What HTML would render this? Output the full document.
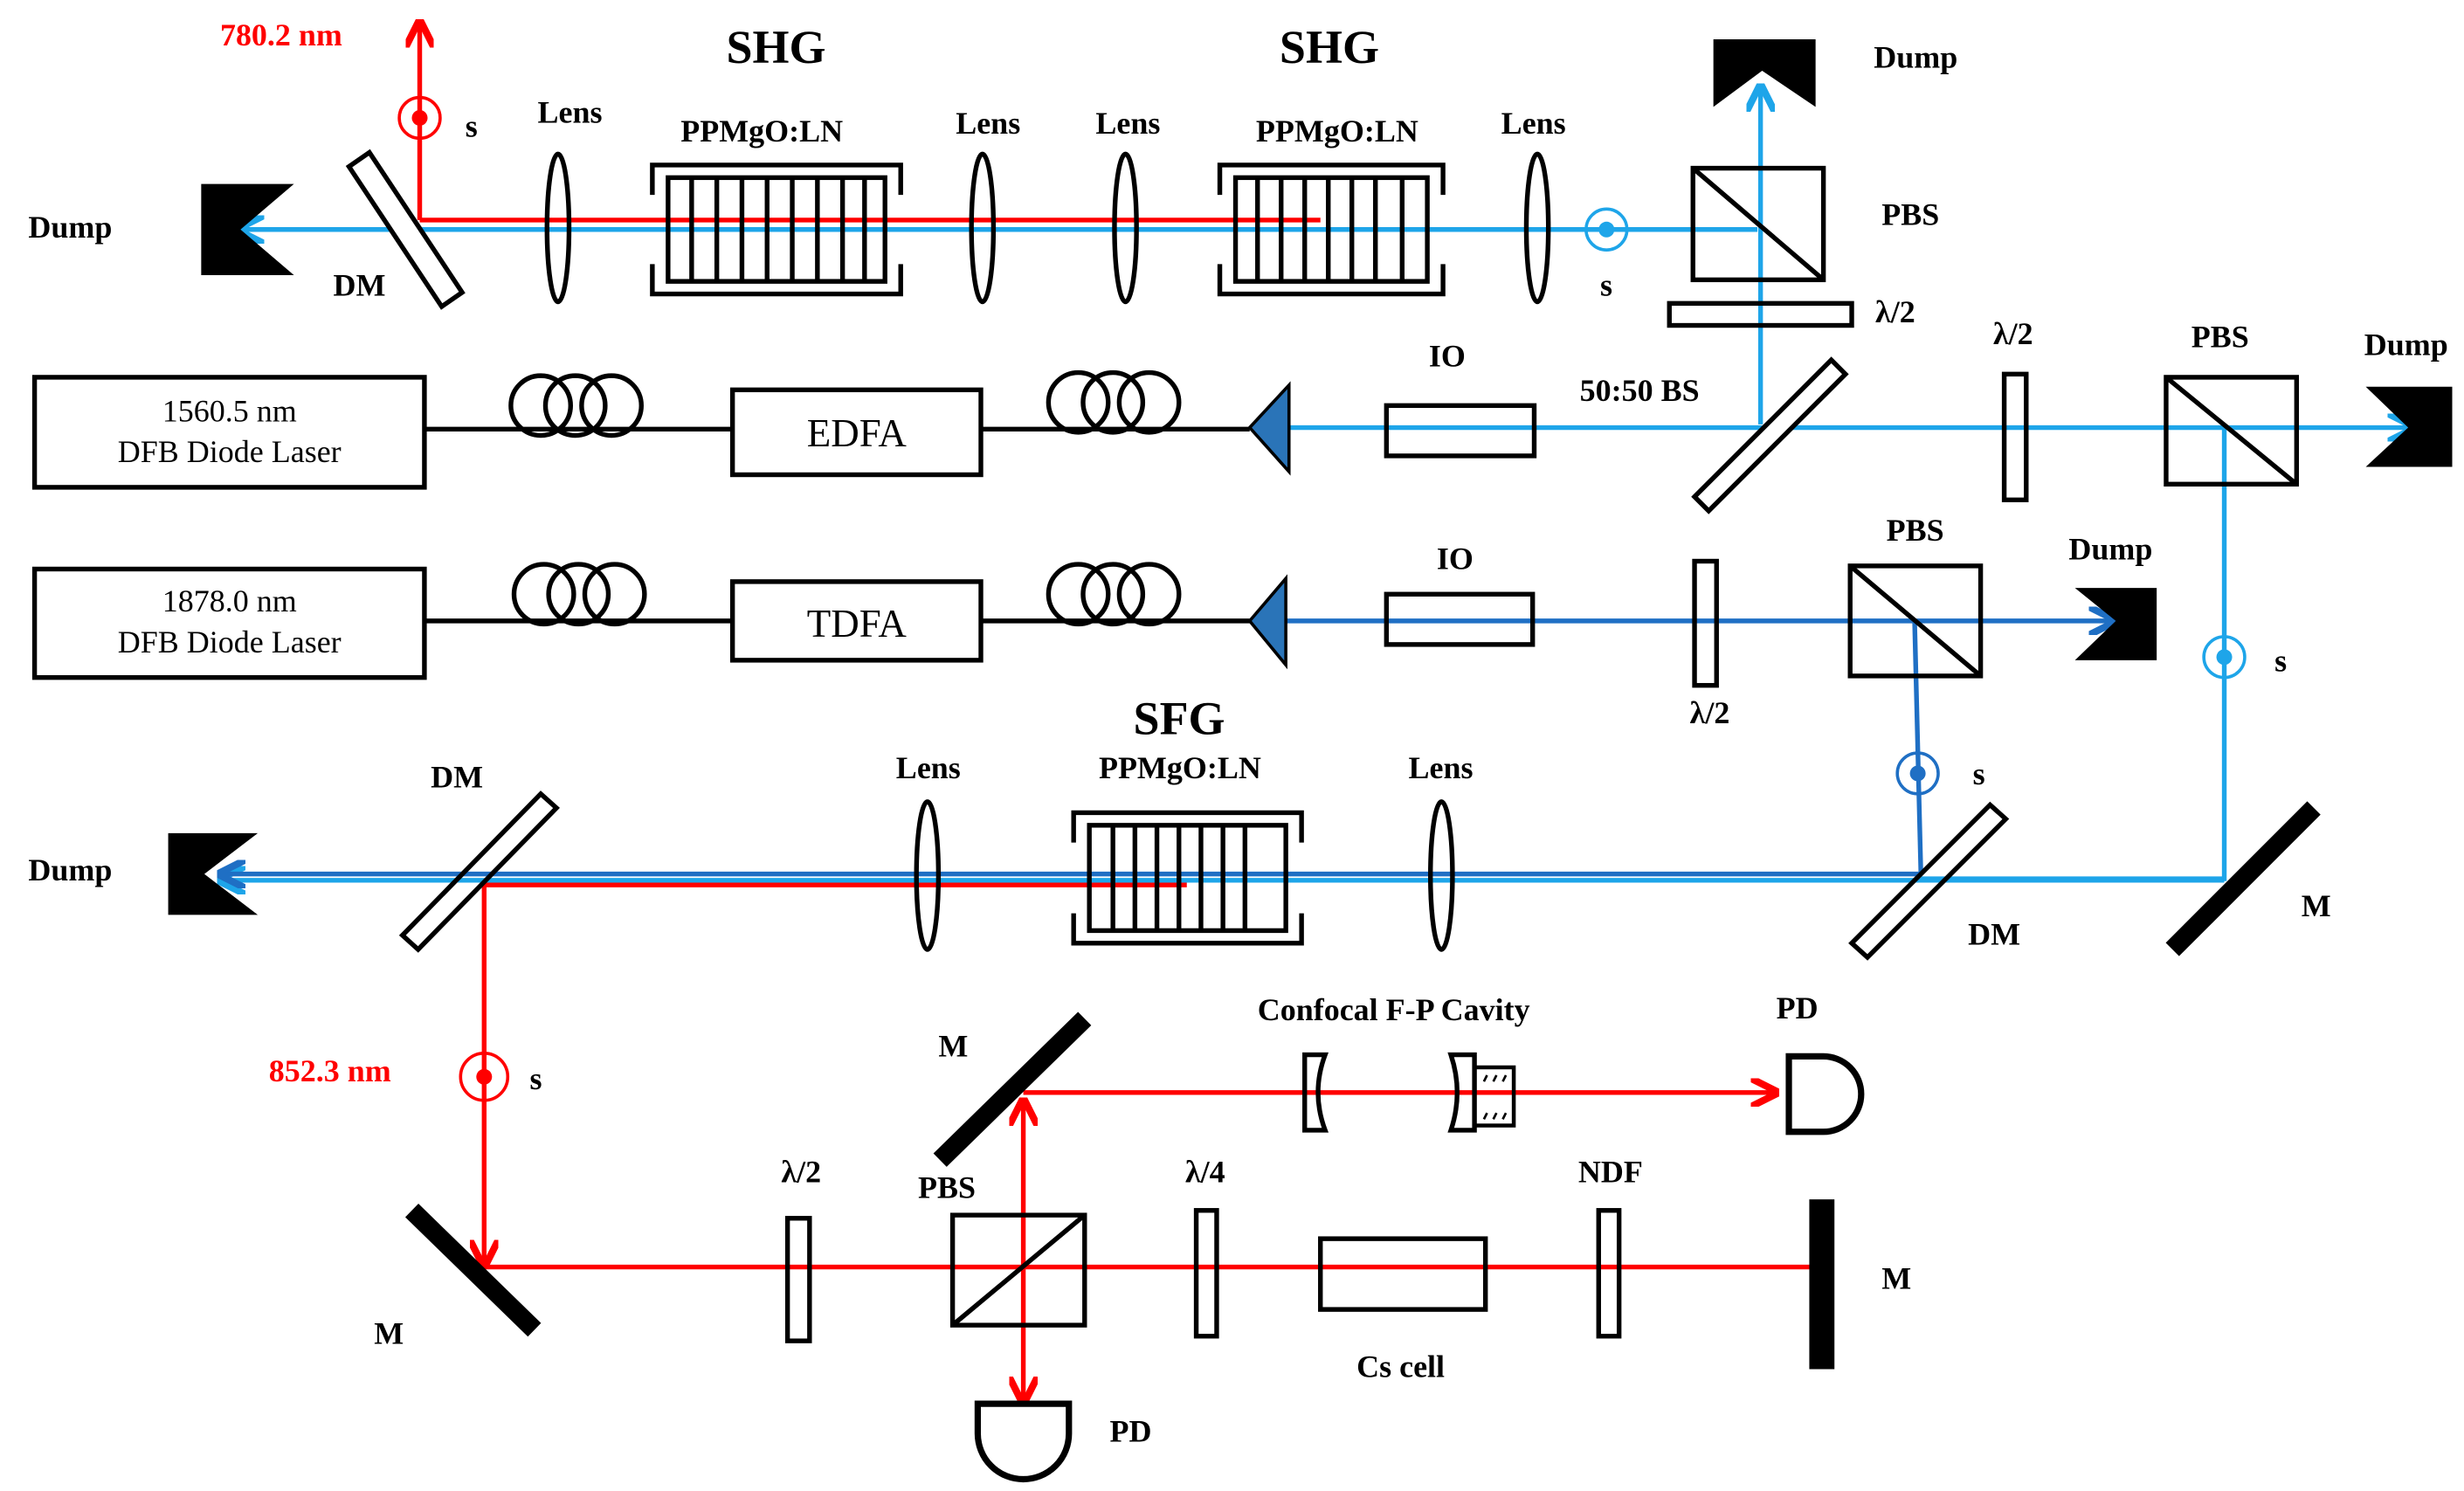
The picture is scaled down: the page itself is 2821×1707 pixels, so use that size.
<!DOCTYPE html>
<html><head><meta charset="utf-8"><style>html,body{margin:0;padding:0;background:#fff}svg{display:block}
svg text{font-family:"Liberation Serif","Times New Roman",Times,serif;font-weight:bold;font-size:20px;fill:#000}
svg text.n{font-weight:normal}
</style></head><body>
<svg width="2821" height="1707" viewBox="0 0 1567.5 948.5" preserveAspectRatio="none" xmlns="http://www.w3.org/2000/svg" font-family="Liberation Serif, serif">
<defs>
<marker id="ar" viewBox="0 0 10 10" refX="9" refY="5" markerWidth="6" markerHeight="6" orient="auto-start-reverse"><path d="M0,0 L10,5 L0,10" fill="none" stroke="#f00" stroke-width="2.5"/></marker>
<marker id="ab" viewBox="0 0 10 10" refX="9" refY="5" markerWidth="6" markerHeight="6" orient="auto"><path d="M0,0 L10,5 L0,10" fill="none" stroke="#1ea5e9" stroke-width="2.5"/></marker>
<marker id="ad" viewBox="0 0 10 10" refX="9" refY="5" markerWidth="6" markerHeight="6" orient="auto"><path d="M0,0 L10,5 L0,10" fill="none" stroke="#1f6fc4" stroke-width="2.5"/></marker>
</defs>
<rect width="1568" height="949" fill="#fff"/>
<g fill="none" stroke-width="3">
<line x1="1118" y1="146" x2="152" y2="146" stroke="#1ea5e9" marker-end="url(#ab)"/>
<line x1="1120" y1="270" x2="1120" y2="55" stroke="#1ea5e9" marker-end="url(#ab)"/>
<line x1="820" y1="272" x2="1535" y2="272" stroke="#1ea5e9" marker-end="url(#ab)"/>
<polyline points="1415,272 1415,559 1222,559" stroke="#1ea5e9"/>
<line x1="1415" y1="560" x2="140" y2="560" stroke="#1ea5e9" marker-end="url(#ab)"/>
<line x1="818" y1="395" x2="1345" y2="395" stroke="#1f6fc4" marker-end="url(#ad)"/>
<polyline points="1218,395 1222,556" stroke="#1f6fc4"/>
<line x1="1222" y1="556" x2="140" y2="556" stroke="#1f6fc4" marker-end="url(#ad)"/>
<line x1="267" y1="140" x2="840" y2="140" stroke="#f00"/>
<line x1="267" y1="140" x2="267" y2="14" stroke="#f00" marker-end="url(#ar)"/>
<polyline points="755,563 308,563 308,805" stroke="#f00" marker-end="url(#ar)"/>
<line x1="308" y1="806" x2="1155" y2="806" stroke="#f00"/>
<line x1="651" y1="700" x2="651" y2="892" stroke="#f00" marker-start="url(#ar)" marker-end="url(#ar)"/>
<line x1="651" y1="695" x2="1130" y2="695" stroke="#f00" marker-end="url(#ar)"/>
</g>
<g fill="none" stroke-width="2">
<circle cx="267" cy="75" r="13" stroke="#f00"/><circle cx="267" cy="75" r="5" fill="#f00" stroke="none"/>
<circle cx="1022" cy="146" r="13" stroke="#1ea5e9"/><circle cx="1022" cy="146" r="5" fill="#1ea5e9" stroke="none"/>
<circle cx="1415" cy="418" r="13" stroke="#1ea5e9"/><circle cx="1415" cy="418" r="5" fill="#1ea5e9" stroke="none"/>
<circle cx="1220" cy="492" r="13" stroke="#1f6fc4"/><circle cx="1220" cy="492" r="5" fill="#1f6fc4" stroke="none"/>
<circle cx="308" cy="685" r="15" stroke="#f00"/><circle cx="308" cy="685" r="5" fill="#f00" stroke="none"/>
</g>
<g fill="none" stroke="#000" stroke-width="3">
<polygon points="222,106 235,97 294,186 281,195" fill="#fff"/>
<ellipse cx="355" cy="145" rx="7" ry="47"/><ellipse cx="625" cy="145" rx="7" ry="47"/><ellipse cx="716" cy="145" rx="7" ry="47"/><ellipse cx="978" cy="145" rx="7" ry="47"/>
<ellipse cx="590" cy="557" rx="7" ry="47"/><ellipse cx="917" cy="557" rx="7" ry="47"/>
<path d="M415,124 V105 H573 V124 M415,168 V187 H573 V168"/><rect x="425" y="113" width="138" height="66"/>
<path d="M440,113V179M456,113V179M472,113V179M488,113V179M504,113V179M520,113V179M536,113V179M550,113V179"/>
<path d="M776,124 V105 H918 V124 M776,168 V187 H918 V168"/><rect x="786" y="113" width="122" height="66"/>
<path d="M800,113V179M815,113V179M830,113V179M845,113V179M860,113V179M875,113V179M892,113V179"/>
<path d="M683,536 V517 H828 V536 M683,581 V600 H828 V581"/><rect x="693" y="525" width="125" height="67"/>
<path d="M708,525V592M722,525V592M736,525V592M750,525V592M764,525V592M778,525V592M792,525V592"/>
<rect x="1077" y="107" width="83" height="71"/><line x1="1077" y1="107" x2="1160" y2="178"/>
<rect x="1378" y="240" width="83" height="68"/><line x1="1378" y1="240" x2="1461" y2="308"/>
<rect x="1177" y="360" width="83" height="70"/><line x1="1177" y1="360" x2="1260" y2="430"/>
<rect x="606" y="773" width="84" height="70"/><line x1="606" y1="843" x2="690" y2="773"/>
<rect x="1062" y="193" width="116" height="14"/>
<rect x="1275" y="238" width="14" height="80"/>
<rect x="1078" y="357" width="14" height="79"/>
<rect x="501" y="775" width="14" height="78"/>
<rect x="761" y="770" width="13" height="80"/>
<rect x="1017" y="770" width="13" height="80"/>
<polygon points="1078,316 1165,229 1174,238 1087,325" fill="#fff"/>
<polygon points="1178,600 1266,512 1276,521 1188,609"/>
<polygon points="256,595 344,505 354,514 266,604"/>
<rect x="22" y="240" width="248" height="70"/><rect x="22" y="362" width="248" height="69"/>
<rect x="466" y="248" width="158" height="54"/><rect x="466" y="370" width="158" height="50"/>
<rect x="882" y="258" width="94" height="32"/><rect x="882" y="378" width="93" height="32"/>
<rect x="840" y="788" width="105" height="45"/>
<line x1="270" y1="273" x2="466" y2="273"/><line x1="624" y1="273" x2="795" y2="273"/>
<line x1="270" y1="395" x2="466" y2="395"/><line x1="624" y1="395" x2="795" y2="395"/>
<circle cx="344" cy="258" r="19"/><circle cx="366" cy="258" r="19"/><circle cx="389" cy="258" r="19"/>
<circle cx="686" cy="256" r="19"/><circle cx="708" cy="256" r="19"/><circle cx="731" cy="256" r="19"/>
<circle cx="346" cy="378" r="19"/><circle cx="368" cy="378" r="19"/><circle cx="391" cy="378" r="19"/>
<circle cx="686" cy="378" r="19"/><circle cx="708" cy="378" r="19"/><circle cx="731" cy="378" r="19"/>
<path d="M830,671 H843 Q834,695 843,719 H830 Z"/>
<path d="M923,671 H938 V719 H923 Q931,695 923,671 Z"/><rect x="938" y="679" width="25" height="37" stroke-width="2.5"/>
<path d="M944,688l2,-4M950,688l2,-4M956,688l2,-4M944,712l2,-4M950,712l2,-4M956,712l2,-4" stroke-width="1.5"/>
<path d="M1138,672 H1160 A24,24 0 0 1 1160,720 H1138 Z" stroke-width="4"/>
<path d="M622,893 V912 A24,24 0 0 0 680,912 V893 Z" stroke-width="4"/>
</g>
<polygon points="795,272 820,245 820,300" fill="#2a74b8" stroke="#000" stroke-width="2"/>
<polygon points="795,395 818,368 818,423" fill="#2a74b8" stroke="#000" stroke-width="2"/>
<g stroke="#000" stroke-width="12" fill="none">
<line x1="1382" y1="604" x2="1472" y2="514"/>
<line x1="262" y1="770" x2="340" y2="846"/>
<line x1="598" y1="738" x2="690" y2="648"/>
<line x1="1159" y1="763" x2="1159" y2="871" stroke-width="16"/>
</g>
<g fill="#000">
<polygon points="128,117 187,117 153,146 187,175 128,175"/>
<polygon points="107,530 164,530 130,556 164,582 107,582"/>
<polygon points="1090,25 1155,25 1155,68 1121,45 1090,68"/>
<polygon points="1505,246 1560,246 1560,297 1505,297 1532,272"/>
<polygon points="1320,374 1372,374 1372,420 1320,420 1346,395"/>
</g>
<text x="140" y="29" style="fill:#f00">780.2 nm</text>
<text x="296" y="87">s</text>
<text x="342" y="78">Lens</text><text x="608" y="85">Lens</text><text x="697" y="85">Lens</text><text x="955" y="85">Lens</text>
<text x="462" y="40" style="font-size:30px">SHG</text><text x="814" y="40" style="font-size:30px">SHG</text>
<text x="433" y="90">PPMgO:LN</text><text x="799" y="90">PPMgO:LN</text>
<text x="18" y="151">Dump</text><text x="212" y="188">DM</text>
<text x="1018" y="188">s</text>
<text x="1192" y="43">Dump</text><text x="1197" y="143">PBS</text><text x="1193" y="205">λ/2</text>
<text x="909" y="233">IO</text><text x="1005" y="255">50:50 BS</text>
<text x="1268" y="219">λ/2</text><text x="1394" y="221">PBS</text><text x="1504" y="226">Dump</text>
<text x="914" y="362">IO</text><text x="1200" y="344">PBS</text><text x="1316" y="356">Dump</text>
<text x="1075" y="460">λ/2</text><text x="1447" y="427">s</text><text x="1255" y="499">s</text>
<text x="1464" y="583">M</text><text x="1252" y="601">DM</text>
<text class="n" x="146" y="268" text-anchor="middle">1560.5 nm</text>
<text class="n" x="146" y="294" text-anchor="middle">DFB Diode Laser</text>
<text class="n" x="146" y="389" text-anchor="middle">1878.0 nm</text>
<text class="n" x="146" y="415" text-anchor="middle">DFB Diode Laser</text>
<text class="n" x="545" y="284" text-anchor="middle" style="font-size:25px">EDFA</text>
<text class="n" x="545" y="405" text-anchor="middle" style="font-size:25px">TDFA</text>
<text x="721" y="467" style="font-size:30px">SFG</text>
<text x="699" y="495">PPMgO:LN</text><text x="570" y="495">Lens</text><text x="896" y="495">Lens</text>
<text x="274" y="501">DM</text><text x="18" y="560">Dump</text>
<text x="171" y="688" style="fill:#f00">852.3 nm</text><text x="337" y="693">s</text>
<text x="800" y="649">Confocal F-P Cavity</text><text x="1130" y="648">PD</text>
<text x="597" y="672">M</text>
<text x="497" y="752">λ/2</text><text x="584" y="762">PBS</text><text x="754" y="752">λ/4</text><text x="1004" y="752">NDF</text>
<text x="1197" y="820">M</text><text x="238" y="855">M</text>
<text x="863" y="876">Cs cell</text><text x="706" y="917">PD</text>
</svg>
</body></html>
